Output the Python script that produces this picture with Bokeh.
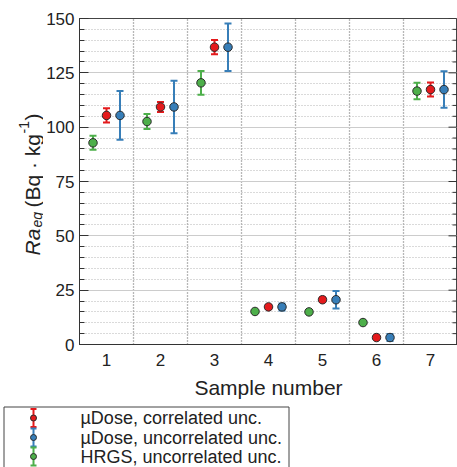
import math
from bokeh.plotting import figure
from bokeh.layouts import column, row
from bokeh.models import (ColumnDataSource, Whisker, TeeHead, FixedTicker,
                          SingleIntervalTicker, Range1d)
from bokeh.core.properties import value
from bokeh.embed import file_html
from bokeh.resources import INLINE

# ---------------- data ----------------
samples = [1, 2, 3, 4, 5, 6, 7]
sample_labels = ["1", "2", "3", "4", "5", "6", "7"]
hrgs_val = [92.8, 102.6, 120.4, 15.2, 15.0, 10.1, 116.6]
hrgs_err = [3.2, 3.5, 5.5, 0.5, 0.5, 0.5, 3.8]
udose_val = [105.4, 109.3, 136.8, 17.3, 20.6, 3.2, 117.3]
udose_corr_err = [3.3, 2.3, 3.3, 1.0, 1.1, 0.8, 3.2]
udose_unc_err = [11.2, 12.1, 10.9, 1.6, 4.0, 1.6, 8.4]
legend_labels = ["\u00b5Dose, correlated unc.",
                 "\u00b5Dose, uncorrelated unc.",
                 "HRGS, uncorrelated unc."]

# ---------------- style / layout ----------------
FONT = "Liberation Sans"
TXT = "#222222"
AX = "#333333"
RED, BLUE, GREEN = "#e41a1c", "#377eb8", "#4daf4a"
EDGE = "#2b2b2b"
W = 457
MAIN_H = 402
LEG_H = 467 - MAIN_H
YLAB_W = 43
F_LEFT, F_TOP, F_BOTTOM = 79, 18, 344
X0, X1 = 0.5, 7.5
Y0, Y1 = 0, 150
Y_MAJOR, Y_MINOR = 25, 5

p = figure(width=W - YLAB_W, height=MAIN_H, x_range=Range1d(X0, X1),
           y_range=Range1d(Y0, Y1),
           output_backend="svg", toolbar_location=None,
           min_border_left=F_LEFT - YLAB_W, min_border_right=0, min_border_top=F_TOP,
           min_border_bottom=MAIN_H - F_BOTTOM)
p.background_fill_color = "white"
p.border_fill_color = "white"
p.outline_line_color = "#444444"
p.outline_line_width = 1

# left axis
yt = SingleIntervalTicker(interval=Y_MAJOR, num_minor_ticks=Y_MAJOR // Y_MINOR)
p.yaxis.ticker = yt
p.yaxis.major_tick_in = 9
p.yaxis.major_tick_out = 0
p.yaxis.minor_tick_in = 5
p.yaxis.minor_tick_out = 0
p.yaxis.axis_line_color = AX
p.yaxis.major_tick_line_color = AX
p.yaxis.minor_tick_line_color = AX
p.yaxis.major_label_text_font = FONT
p.yaxis.major_label_text_font_size = "17px"
p.yaxis.major_label_text_color = TXT
p.yaxis.major_label_standoff = 5

# bottom axis
p.xaxis.ticker = FixedTicker(ticks=samples)
p.xaxis.major_label_overrides = {s: l for s, l in zip(samples, sample_labels)}
p.xaxis.major_tick_in = 0
p.xaxis.major_tick_out = 0
p.xaxis.minor_tick_line_color = None
p.xaxis.axis_line_color = AX
p.xaxis.major_label_text_font = FONT
p.xaxis.major_label_text_font_size = "17px"
p.xaxis.major_label_text_color = TXT
p.xaxis.major_label_standoff = 9
p.xaxis.axis_label = "Sample number"
p.xaxis.axis_label_text_font = FONT
p.xaxis.axis_label_text_font_size = "21px"
p.xaxis.axis_label_text_font_style = "normal"
p.xaxis.axis_label_text_color = TXT
p.xaxis.axis_label_standoff = 7

# mirrored inward ticks on the right spine (half of each dash falls outside the frame)
right_major = list(range(Y0, Y1 + 1, Y_MAJOR))
right_minor = [v for v in range(Y0, Y1 + 1, Y_MINOR) if v % Y_MAJOR]
p.scatter([X1] * len(right_major), right_major, marker="dash", size=18,
          line_color=AX, line_width=1)
p.scatter([X1] * len(right_minor), right_minor, marker="dash", size=10,
          line_color=AX, line_width=1)

# grids
p.ygrid.ticker = yt
p.ygrid.grid_line_color = "#cccccc"
p.ygrid.grid_line_width = 1
p.ygrid.minor_grid_line_color = "#b5b5b5"
p.ygrid.minor_grid_line_dash = "1 2"
p.xgrid.ticker = FixedTicker(ticks=[s + 0.5 for s in samples[:-1]])
p.xgrid.grid_line_color = "#707070"
p.xgrid.grid_line_dash = "1 2"
p.xgrid.grid_line_width = 1.3

# series
series = [
    ([s - 0.25 for s in samples], hrgs_val, hrgs_err, GREEN),
    (list(samples), udose_val, udose_corr_err, RED),
    ([s + 0.25 for s in samples], udose_val, udose_unc_err, BLUE),
]
for xs, vals, errs, col in series:
    src = ColumnDataSource(dict(x=xs, y=vals,
                                lo=[v - e for v, e in zip(vals, errs)],
                                hi=[v + e for v, e in zip(vals, errs)]))
    w = Whisker(source=src, base="x", lower="lo", upper="hi", dimension="height",
                line_color=col, line_width=2,
                upper_head=TeeHead(size=7, line_color=col, line_width=2),
                lower_head=TeeHead(size=7, line_color=col, line_width=2))
    p.add_layout(w)
for xs, vals, errs, col in series:
    src = ColumnDataSource(dict(x=xs, y=vals))
    p.scatter("x", "y", source=src, size=8.5, fill_color=col, line_color=EDGE,
              line_width=1)

# ---------------- y-axis label figure (rotated rich text) ----------------
yl = figure(width=YLAB_W, height=MAIN_H, x_range=Range1d(0, YLAB_W),
            y_range=Range1d(0, MAIN_H), output_backend="svg", toolbar_location=None,
            min_border_left=0, min_border_right=0, min_border_top=0, min_border_bottom=0)
yl.axis.visible = False
yl.grid.visible = False
yl.outline_line_color = None
BASE_X = 32
# (text, style, size, canvas x of baseline, canvas y of text start)
pieces = [
    ("Ra", "italic", "21px", BASE_X, 255),
    ("eq", "italic", "14px", BASE_X + 4, 227),
    ("(Bq \u00b7 kg", "normal", "21px", BASE_X, 207),
    ("-1", "normal", "14px", BASE_X - 9, 133),
    (")", "normal", "21px", BASE_X, 120),
]
for txt, style, size, X, Y in pieces:
    yl.text(x=[X], y=[MAIN_H - Y], text=[txt], angle=math.pi / 2,
            text_font=value(FONT), text_font_style=style, text_font_size=size,
            text_color=TXT, text_align="left", text_baseline="alphabetic")

# ---------------- legend figure ----------------
lg = figure(width=W, height=LEG_H, x_range=Range1d(0, W), y_range=Range1d(0, LEG_H),
            output_backend="svg", toolbar_location=None,
            min_border_left=0, min_border_right=0, min_border_top=0, min_border_bottom=0)
lg.axis.visible = False
lg.grid.visible = False
lg.outline_line_color = None
lg.background_fill_color = "white"
lg.border_fill_color = "white"


def ly(Y):
    return LEG_H - (Y - MAIN_H)


BOX_TOP = 406.5
lg.line([3.5, 3.5, 288.5, 288.5], [ly(480), ly(BOX_TOP), ly(BOX_TOP), ly(480)],
        line_color="#444444", line_width=1)
entry_y = [417.5, 437, 456]
leg_cols = [RED, BLUE, GREEN]
gx = 33
for Y, col in zip(entry_y, leg_cols):
    lg.segment(x0=[gx], y0=[ly(Y - 9)], x1=[gx], y1=[ly(Y + 9)], line_color=col, line_width=2)
    lg.segment(x0=[gx - 3], y0=[ly(Y - 9)], x1=[gx + 3], y1=[ly(Y - 9)], line_color=col, line_width=2)
    lg.segment(x0=[gx - 3], y0=[ly(Y + 9)], x1=[gx + 3], y1=[ly(Y + 9)], line_color=col, line_width=2)
    lg.scatter([gx], [ly(Y)], size=6, fill_color=col, line_color=EDGE, line_width=1)
lg.text(x=[80] * 3, y=[ly(Y) for Y in entry_y], text=legend_labels, text_font=value(FONT),
        text_font_size="18px", text_color=TXT, text_baseline="middle",
        text_align="left")

layout = column(row(column(yl), p, spacing=0), row(lg), spacing=0)
open("out.html", "w").write(file_html(layout, INLINE))
